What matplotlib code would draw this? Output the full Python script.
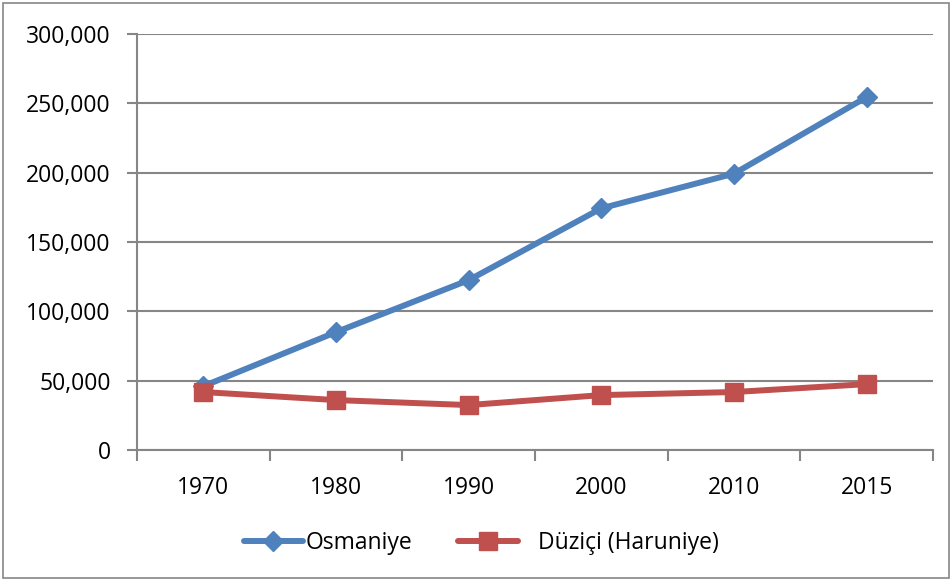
import matplotlib
matplotlib.use("Agg")
from matplotlib import pyplot as plt
from matplotlib.patches import Rectangle
from matplotlib.ticker import FuncFormatter

years = ["1970", "1980", "1990", "2000", "2010", "2015"]
osmaniye = [46000, 85000, 122500, 174300, 199300, 254500]
duzici = [41800, 36000, 32400, 39600, 41800, 47500]

plt.rcParams['font.family'] = ['Open Sans', 'DejaVu Sans']

fig = plt.figure(figsize=(9.53, 5.81), dpi=100)
ax = fig.add_axes([137 / 953, 1 - 450 / 581, (933 - 137) / 953, (450 - 34) / 581])

x = list(range(len(years)))
ax.plot(x, osmaniye, color='#4F81BD', marker='D', markersize=10, linewidth=4.3,
        label='Osmaniye', solid_capstyle='round')
ax.plot(x, duzici, color='#C0504D', marker='s', markersize=13, linewidth=4.3,
        label='   Düziçi (Haruniye)', solid_capstyle='round')

ax.set_xlim(-0.5, len(years) - 0.5)
ax.set_ylim(0, 300000)
ax.set_yticks(range(0, 300001, 50000))
ax.yaxis.set_major_formatter(FuncFormatter(lambda v, p: f"{int(v):,}"))
ax.set_xticks(x)
ax.set_xticklabels(years)
ax.set_xticks([i - 0.5 for i in range(len(years) + 1)], minor=True)
ax.tick_params(axis='x', which='major', length=0, pad=19, labelsize=16.5)
ax.tick_params(axis='x', which='minor', length=8, width=1.5, color='#868686')
ax.tick_params(axis='y', length=7, width=1.5, color='#868686', labelsize=16.5, pad=12)

ax.grid(axis='y', color='#868686', linewidth=1.5)
ax.set_axisbelow(True)
for s in ['top', 'right']:
    ax.spines[s].set_visible(False)
for s in ['left', 'bottom']:
    ax.spines[s].set_color('#868686')
    ax.spines[s].set_linewidth(1.5)

fig.legend(loc='center', bbox_to_anchor=(0.505, 1 - 543 / 581), ncol=2, frameon=False,
           fontsize=16.5, handlelength=2.6, handletextpad=0.1, columnspacing=2.0)

fig.patches.append(Rectangle((3 / 953, 3 / 581), 946 / 953, 575 / 581, transform=fig.transFigure,
                             fill=False, edgecolor='#868686', linewidth=1.2))

fig.savefig('out.png', dpi=100)
